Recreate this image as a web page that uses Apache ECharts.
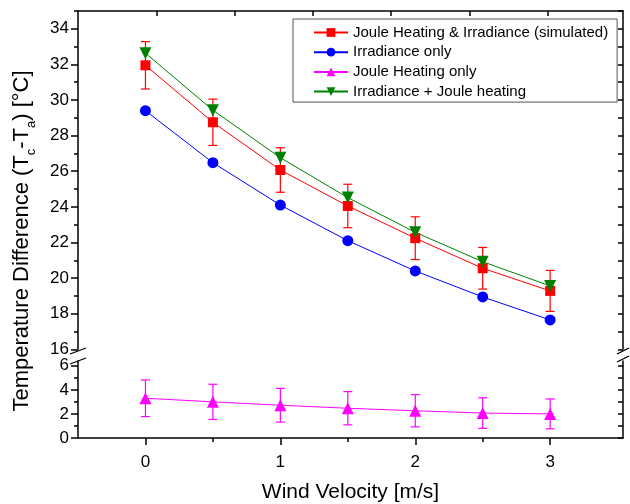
<!DOCTYPE html>
<html>
<head>
<meta charset="utf-8">
<script src="https://cdn.jsdelivr.net/npm/echarts@6/dist/echarts.min.js"></script>
<style>
  html, body { margin: 0; padding: 0; background: #fff; }
  #chart { width: 630px; height: 504px; }
</style>
</head>
<body>
<div id="chart"></div>
<script>
// Wind velocity [m/s]
const windVelocity = [0, 0.5, 1, 1.5, 2, 2.5, 3];
// Temperature difference Tc - Ta [°C]
const simulated    = [31.95, 28.75, 26.07, 24.05, 22.24, 20.55, 19.28];
const simulatedErr = [1.33, 1.30, 1.25, 1.22, 1.20, 1.17, 1.15];
const irradiance   = [29.40, 26.48, 24.10, 22.10, 20.40, 18.94, 17.65];
const jouleOnly    = [3.30, 3.00, 2.72, 2.47, 2.26, 2.07, 2.00];
const jouleErr     = [1.52, 1.46, 1.40, 1.38, 1.34, 1.27, 1.24];
const combined     = [32.63, 29.43, 26.76, 24.52, 22.57, 20.92, 19.56];

const seriesNames = [
  'Joule Heating & Irradiance (simulated)',
  'Irradiance only',
  'Joule Heating only',
  'Irradiance + Joule heating'
];
const xTickLabels = [0, 1, 2, 3];
const upperLabels = [16, 18, 20, 22, 24, 26, 28, 30, 32, 34];
const lowerLabels = [0, 2, 4, 6];

const FONT = 'Liberation Sans, Arial, Helvetica, sans-serif';
const AX = { color: '#000', width: 1.5 };

const pairs = (ys) => windVelocity.map((x, i) => [x, ys[i]]);
const bars = (ys, es) => windVelocity.map((x, i) => [x, ys[i] - es[i], ys[i] + es[i]]);
const range = (a, b, s) => { const r = []; for (let v = a; v <= b + 1e-9; v += s) r.push(+v.toFixed(3)); return r; };

function errorBar(color) {
  return function (params, api) {
    const x = api.value(0);
    const top = api.coord([x, api.value(2)]);
    const bot = api.coord([x, api.value(1)]);
    const h = 4.5;
    const st = { stroke: color, lineWidth: 1.2 };
    return {
      type: 'group',
      children: [
        { type: 'line', shape: { x1: top[0], y1: top[1], x2: bot[0], y2: bot[1] }, style: st },
        { type: 'line', shape: { x1: top[0] - h, y1: top[1], x2: top[0] + h, y2: top[1] }, style: st },
        { type: 'line', shape: { x1: bot[0] - h, y1: bot[1], x2: bot[0] + h, y2: bot[1] }, style: st }
      ]
    };
  };
}

// plot geometry (pixels)
const L = 78, R = 623, TOP = 11, UPPER_BOTTOM = 349.3, LOWER_TOP = 360.9, BOTTOM = 438.3;

const chart = echarts.init(document.getElementById('chart'), null, { renderer: 'canvas' });

const noLine = { show: false, onZero: false };
const hidden = { axisLine: noLine, axisTick: { show: false }, axisLabel: { show: false }, splitLine: { show: false } };
const tickLabel = { show: true, fontSize: 17, color: '#000', margin: 9, fontFamily: FONT };

const option = {
  backgroundColor: '#fff',
  animation: false,
  textStyle: { fontFamily: FONT },
  grid: [
    { left: L, right: 630 - R, top: TOP, height: UPPER_BOTTOM - TOP },
    { left: L, right: 630 - R, top: LOWER_TOP, height: BOTTOM - LOWER_TOP }
  ],
  xAxis: [
    // upper panel data axis (invisible)
    Object.assign({ type: 'value', gridIndex: 0, min: -0.5, max: 3.54, position: 'bottom' }, hidden),
    // top frame with inward ticks
    {
      type: 'value', gridIndex: 0, min: 0, max: 6.96, position: 'top',
      axisLine: { show: true, onZero: false, lineStyle: AX },
      axisTick: { show: true, inside: true, length: 5, lineStyle: AX, customValues: [1, 2, 3, 4, 5, 6] },
      axisLabel: { show: false }, splitLine: { show: false }
    },
    // lower panel: bottom axis with labels
    {
      type: 'value', gridIndex: 1, min: -0.5, max: 3.54, position: 'bottom',
      axisLine: { show: true, onZero: false, lineStyle: AX },
      axisTick: { show: true, length: 7, lineStyle: AX, customValues: xTickLabels },
      axisLabel: Object.assign({ customValues: xTickLabels }, tickLabel, { margin: 16 }),
      splitLine: { show: false },
      name: 'Wind Velocity [m/s]', nameLocation: 'middle', nameGap: 44,
      nameTextStyle: { fontSize: 21, color: '#000', fontFamily: FONT }
    },
    // minor ticks at half steps
    {
      type: 'value', gridIndex: 1, min: -0.5, max: 3.54, position: 'bottom',
      axisLine: noLine,
      axisTick: { show: true, length: 4, lineStyle: AX, customValues: [0.5, 1.5, 2.5] },
      axisLabel: { show: false }, splitLine: { show: false }
    }
  ],
  yAxis: [
    // 0: upper left with labels
    {
      type: 'value', gridIndex: 0, min: 16, max: 35, position: 'left',
      axisLine: { show: true, onZero: false, lineStyle: AX },
      axisTick: { show: true, length: 7, lineStyle: AX, customValues: upperLabels },
      axisLabel: Object.assign({ customValues: upperLabels }, tickLabel),
      splitLine: { show: false }
    },
    // 1: upper left minor ticks
    {
      type: 'value', gridIndex: 0, min: 16, max: 35, position: 'left',
      axisLine: noLine,
      axisTick: { show: true, length: 4, lineStyle: AX, customValues: range(17, 35, 2) },
      axisLabel: { show: false }, splitLine: { show: false }
    },
    // 2: upper right frame
    {
      type: 'value', gridIndex: 0, min: 16, max: 35, position: 'right',
      axisLine: { show: true, onZero: false, lineStyle: AX },
      axisTick: { show: true, inside: true, length: 5, lineStyle: AX, customValues: range(16, 35, 1) },
      axisLabel: { show: false }, splitLine: { show: false }
    },
    // 3: lower left with labels
    {
      type: 'value', gridIndex: 1, min: 0, max: 6.4, position: 'left',
      axisLine: { show: true, onZero: false, lineStyle: AX },
      axisTick: { show: true, length: 7, lineStyle: AX, customValues: lowerLabels },
      axisLabel: Object.assign({ customValues: lowerLabels }, tickLabel),
      splitLine: { show: false }
    },
    // 4: lower left minor ticks
    {
      type: 'value', gridIndex: 1, min: 0, max: 6.4, position: 'left',
      axisLine: noLine,
      axisTick: { show: true, length: 4, lineStyle: AX, customValues: [1, 3, 5] },
      axisLabel: { show: false }, splitLine: { show: false }
    },
    // 5: lower right frame
    {
      type: 'value', gridIndex: 1, min: 0, max: 6.4, position: 'right',
      axisLine: { show: true, onZero: false, lineStyle: AX },
      axisTick: { show: true, inside: true, length: 5, lineStyle: AX, customValues: range(0, 6, 1) },
      axisLabel: { show: false }, splitLine: { show: false }
    }
  ],
  legend: {
    data: seriesNames,
    orient: 'vertical',
    left: 293, top: 19,
    padding: [6, 9, 3, 20],
    itemWidth: 34, itemHeight: 11, itemGap: 4.7,
    borderColor: '#555', borderWidth: 1, backgroundColor: '#fff',
    textStyle: { fontSize: 15, lineHeight: 15, color: '#000', fontFamily: FONT },
    selectedMode: false
  },
  series: [
    {
      type: 'custom', xAxisIndex: 0, yAxisIndex: 0, z: 1,
      renderItem: errorBar('#ff0000'), data: bars(simulated, simulatedErr), encode: { x: 0, y: [1, 2] }
    },
    {
      type: 'custom', xAxisIndex: 2, yAxisIndex: 3, z: 1,
      renderItem: errorBar('#ff00ff'), data: bars(jouleOnly, jouleErr), encode: { x: 0, y: [1, 2] }
    },
    {
      name: seriesNames[0], type: 'line', xAxisIndex: 0, yAxisIndex: 0, z: 3,
      data: pairs(simulated), symbol: 'rect', symbolSize: 10,
      itemStyle: { color: '#ff0000' }, lineStyle: { color: '#ff0000', width: 1 }
    },
    {
      name: seriesNames[1], type: 'line', xAxisIndex: 0, yAxisIndex: 0, z: 3,
      data: pairs(irradiance), symbol: 'circle', symbolSize: 11,
      itemStyle: { color: '#0000ff' }, lineStyle: { color: '#0000ff', width: 1 }
    },
    {
      name: seriesNames[2], type: 'line', xAxisIndex: 2, yAxisIndex: 3, z: 3,
      data: pairs(jouleOnly), symbol: 'triangle', symbolSize: 12,
      itemStyle: { color: '#ff00ff' }, lineStyle: { color: '#ff00ff', width: 1 }
    },
    {
      name: seriesNames[3], type: 'line', xAxisIndex: 0, yAxisIndex: 0, z: 3,
      data: pairs(combined), symbol: 'triangle', symbolRotate: 180, symbolSize: 12,
      itemStyle: { color: '#008000' }, lineStyle: { color: '#008000', width: 1 }
    }
  ],
  graphic: [
    // axis break marks
    { type: 'line', shape: { x1: L - 8, y1: 354, x2: L + 8, y2: 348 }, style: { stroke: '#000', lineWidth: 1.3 }, z: 10 },
    { type: 'line', shape: { x1: L - 8, y1: 364, x2: L + 8, y2: 358 }, style: { stroke: '#000', lineWidth: 1.3 }, z: 10 },
    { type: 'line', shape: { x1: R - 6, y1: 354, x2: R + 6, y2: 348 }, style: { stroke: '#000', lineWidth: 1.3 }, z: 10 },
    { type: 'line', shape: { x1: R - 6, y1: 362, x2: R + 6, y2: 356 }, style: { stroke: '#000', lineWidth: 1.3 }, z: 10 },
    // y-axis title with subscripts
    {
      type: 'text', x: 22, y: 241, rotation: Math.PI / 2, z: 10,
      style: {
        text: 'Temperature Difference (T{s|c}-T{s|a}) [°C]',
        font: '22px ' + FONT,
        fill: '#000',
        align: 'center', verticalAlign: 'middle',
        rich: { s: { fontSize: 13, fontFamily: FONT, verticalAlign: 'bottom', lineHeight: 31, fill: '#000' } }
      }
    }
  ]
};

chart.setOption(option);
</script>
</body>
</html>
